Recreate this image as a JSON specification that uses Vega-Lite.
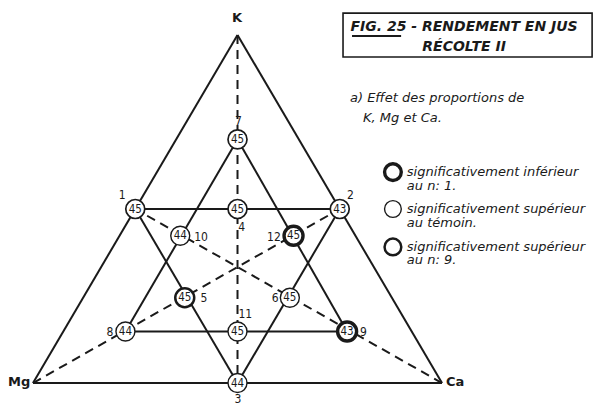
{
  "$schema": "https://vega.github.io/schema/vega-lite/v6.json",
  "width": 611,
  "height": 412,
  "autosize": "none",
  "padding": 0,
  "background": "white",
  "config": {"view": {"stroke": null}},
  "encoding": {
    "x": {"field": "x", "type": "quantitative", "scale": {"domain": [-0.0807, 1.4132], "nice": false, "zero": false}, "axis": null},
    "y": {"field": "y", "type": "quantitative", "scale": {"domain": [-0.0833, 1.1006], "nice": false, "zero": false}, "axis": null}
  },
  "layer": [
    {
      "data": {"values": [{"x": 0.758, "y": 1.063, "x2": 1.367, "y2": 0.937}]},
      "mark": {"type": "rect", "fill": "white", "stroke": "#1a1a1a", "strokeWidth": 1.6},
      "encoding": {"x2": {"field": "x2"}, "y2": {"field": "y2"}}
    },
    {
      "data": {"values": [
        {"trait": "K-Mg", "kind": "bord", "x": 0.5, "y": 1, "x2": 0, "y2": 0},
        {"trait": "Mg-Ca", "kind": "bord", "x": 0, "y": 0, "x2": 1, "y2": 0},
        {"trait": "Ca-K", "kind": "bord", "x": 1, "y": 0, "x2": 0.5, "y2": 1},
        {"trait": "1-2", "kind": "etoile", "x": 0.25, "y": 0.5, "x2": 0.75, "y2": 0.5},
        {"trait": "1-3", "kind": "etoile", "x": 0.25, "y": 0.5, "x2": 0.5, "y2": 0},
        {"trait": "2-3", "kind": "etoile", "x": 0.75, "y": 0.5, "x2": 0.5, "y2": 0},
        {"trait": "7-8", "kind": "etoile", "x": 0.5, "y": 0.7, "x2": 0.226, "y2": 0.148},
        {"trait": "7-9", "kind": "etoile", "x": 0.5, "y": 0.7, "x2": 0.768, "y2": 0.148},
        {"trait": "8-9", "kind": "etoile", "x": 0.226, "y": 0.148, "x2": 0.768, "y2": 0.148},
        {"trait": "K-3", "kind": "mediane", "x": 0.5, "y": 1, "x2": 0.5, "y2": 0},
        {"trait": "Mg-2", "kind": "mediane", "x": 0, "y": 0, "x2": 0.75, "y2": 0.5},
        {"trait": "Ca-1", "kind": "mediane", "x": 1, "y": 0, "x2": 0.25, "y2": 0.5},
        {"trait": "FIG. 25", "kind": "souligne", "x": 0.78, "y": 0.997, "x2": 0.9, "y2": 0.997}
      ]},
      "layer": [
        {
          "transform": [{"filter": "datum.kind !== 'mediane'"}],
          "mark": {"type": "rule", "stroke": "#1a1a1a", "strokeWidth": 2},
          "encoding": {"x2": {"field": "x2"}, "y2": {"field": "y2"}}
        },
        {
          "transform": [{"filter": "datum.kind === 'mediane'"}],
          "mark": {"type": "rule", "stroke": "#1a1a1a", "strokeWidth": 2, "strokeDash": [9, 6]},
          "encoding": {"x2": {"field": "x2"}, "y2": {"field": "y2"}}
        }
      ]
    },
    {
      "data": {"values": [
        {"n": "1", "rendement": 45, "signif": "ns", "x": 0.25, "y": 0.5, "lx": 0.218, "ly": 0.54},
        {"n": "2", "rendement": 43, "signif": "ns", "x": 0.75, "y": 0.5, "lx": 0.776, "ly": 0.54},
        {"n": "3", "rendement": 44, "signif": "sup_temoin", "x": 0.5, "y": 0, "lx": 0.501, "ly": -0.046},
        {"n": "4", "rendement": 45, "signif": "ns", "x": 0.5, "y": 0.5, "lx": 0.51, "ly": 0.448},
        {"n": "5", "rendement": 45, "signif": "sup_n9", "x": 0.371, "y": 0.245, "lx": 0.418, "ly": 0.244},
        {"n": "6", "rendement": 45, "signif": "sup_temoin", "x": 0.628, "y": 0.245, "lx": 0.592, "ly": 0.244},
        {"n": "7", "rendement": 45, "signif": "ns", "x": 0.5, "y": 0.7, "lx": 0.502, "ly": 0.752},
        {"n": "8", "rendement": 44, "signif": "sup_temoin", "x": 0.226, "y": 0.148, "lx": 0.188, "ly": 0.147},
        {"n": "9", "rendement": 43, "signif": "inf_n1", "x": 0.768, "y": 0.148, "lx": 0.808, "ly": 0.147},
        {"n": "10", "rendement": 44, "signif": "sup_temoin", "x": 0.36, "y": 0.423, "lx": 0.411, "ly": 0.42},
        {"n": "11", "rendement": 45, "signif": "sup_temoin", "x": 0.5, "y": 0.148, "lx": 0.519, "ly": 0.198},
        {"n": "12", "rendement": 45, "signif": "inf_n1", "x": 0.637, "y": 0.423, "lx": 0.589, "ly": 0.42}
      ]},
      "layer": [
        {
          "mark": {"type": "point", "shape": "circle", "filled": true, "fill": "white", "stroke": "#1a1a1a", "opacity": 1, "size": 360},
          "encoding": {
            "strokeWidth": {"field": "signif", "type": "nominal", "scale": {"type": "ordinal", "domain": ["inf_n1", "sup_temoin", "sup_n9", "ns"], "range": [3.4, 1.4, 2.5, 1.7]}, "legend": null}
          }
        },
        {
          "mark": {"type": "text", "font": "DejaVu Sans Condensed, DejaVu Sans, sans-serif", "fontSize": 11.5, "fill": "#1a1a1a", "baseline": "middle", "align": "center", "dy": 0.5},
          "encoding": {"text": {"field": "rendement"}}
        },
        {
          "mark": {"type": "text", "font": "DejaVu Sans Condensed, DejaVu Sans, sans-serif", "fontSize": 12, "fill": "#1a1a1a", "baseline": "middle", "align": "center"},
          "encoding": {
            "x": {"field": "lx", "type": "quantitative"},
            "y": {"field": "ly", "type": "quantitative"},
            "text": {"field": "n"}
          }
        }
      ]
    },
    {
      "data": {"values": [
        {"sommet": "K", "x": 0.499, "y": 1.049},
        {"sommet": "Mg", "x": -0.034, "y": 0.003},
        {"sommet": "Ca", "x": 1.032, "y": 0.003}
      ]},
      "mark": {"type": "text", "font": "DejaVu Sans, sans-serif", "fontSize": 13, "fontWeight": "bold", "fill": "#1a1a1a", "baseline": "middle", "align": "center"},
      "encoding": {"text": {"field": "sommet"}}
    },
    {
      "data": {"values": [
        {"ligne": "FIG. 25 - RENDEMENT EN JUS", "x": 1.054, "y": 1.023},
        {"ligne": "RÉCOLTE II", "x": 1.054, "y": 0.966}
      ]},
      "mark": {"type": "text", "font": "DejaVu Sans, sans-serif", "fontSize": 14, "fontWeight": "bold", "fontStyle": "italic", "fill": "#1a1a1a", "baseline": "middle", "align": "center"},
      "encoding": {"text": {"field": "ligne"}}
    },
    {
      "data": {"values": [
        {"ligne": "a) Effet des proportions de", "x": 0.775, "y": 0.819},
        {"ligne": "K, Mg et Ca.", "x": 0.807, "y": 0.761}
      ]},
      "mark": {"type": "text", "font": "DejaVu Sans, sans-serif", "fontSize": 13, "fontStyle": "italic", "fill": "#1a1a1a", "baseline": "middle", "align": "left"},
      "encoding": {"text": {"field": "ligne"}}
    },
    {
      "data": {"values": [
        {"signif": "inf_n1", "texte": "significativement inférieur\nau n: 1.", "x": 0.88, "y": 0.606, "tx": 0.914},
        {"signif": "sup_temoin", "texte": "significativement supérieur\nau témoin.", "x": 0.88, "y": 0.5, "tx": 0.914},
        {"signif": "sup_n9", "texte": "significativement supérieur\nau n: 9.", "x": 0.88, "y": 0.391, "tx": 0.914}
      ]},
      "layer": [
        {
          "mark": {"type": "point", "shape": "circle", "filled": true, "fill": "white", "stroke": "#1a1a1a", "opacity": 1, "size": 280},
          "encoding": {
            "strokeWidth": {"field": "signif", "type": "nominal", "scale": {"type": "ordinal", "domain": ["inf_n1", "sup_temoin", "sup_n9", "ns"], "range": [3.4, 1.4, 2.5, 1.7]}, "legend": null}
          }
        },
        {
          "mark": {"type": "text", "font": "DejaVu Sans, sans-serif", "fontSize": 13, "fontStyle": "italic", "fill": "#1a1a1a", "baseline": "middle", "align": "left", "lineBreak": "\n", "lineHeight": 13.5},
          "encoding": {
            "x": {"field": "tx", "type": "quantitative"},
            "text": {"field": "texte"}
          }
        }
      ]
    }
  ]
}
